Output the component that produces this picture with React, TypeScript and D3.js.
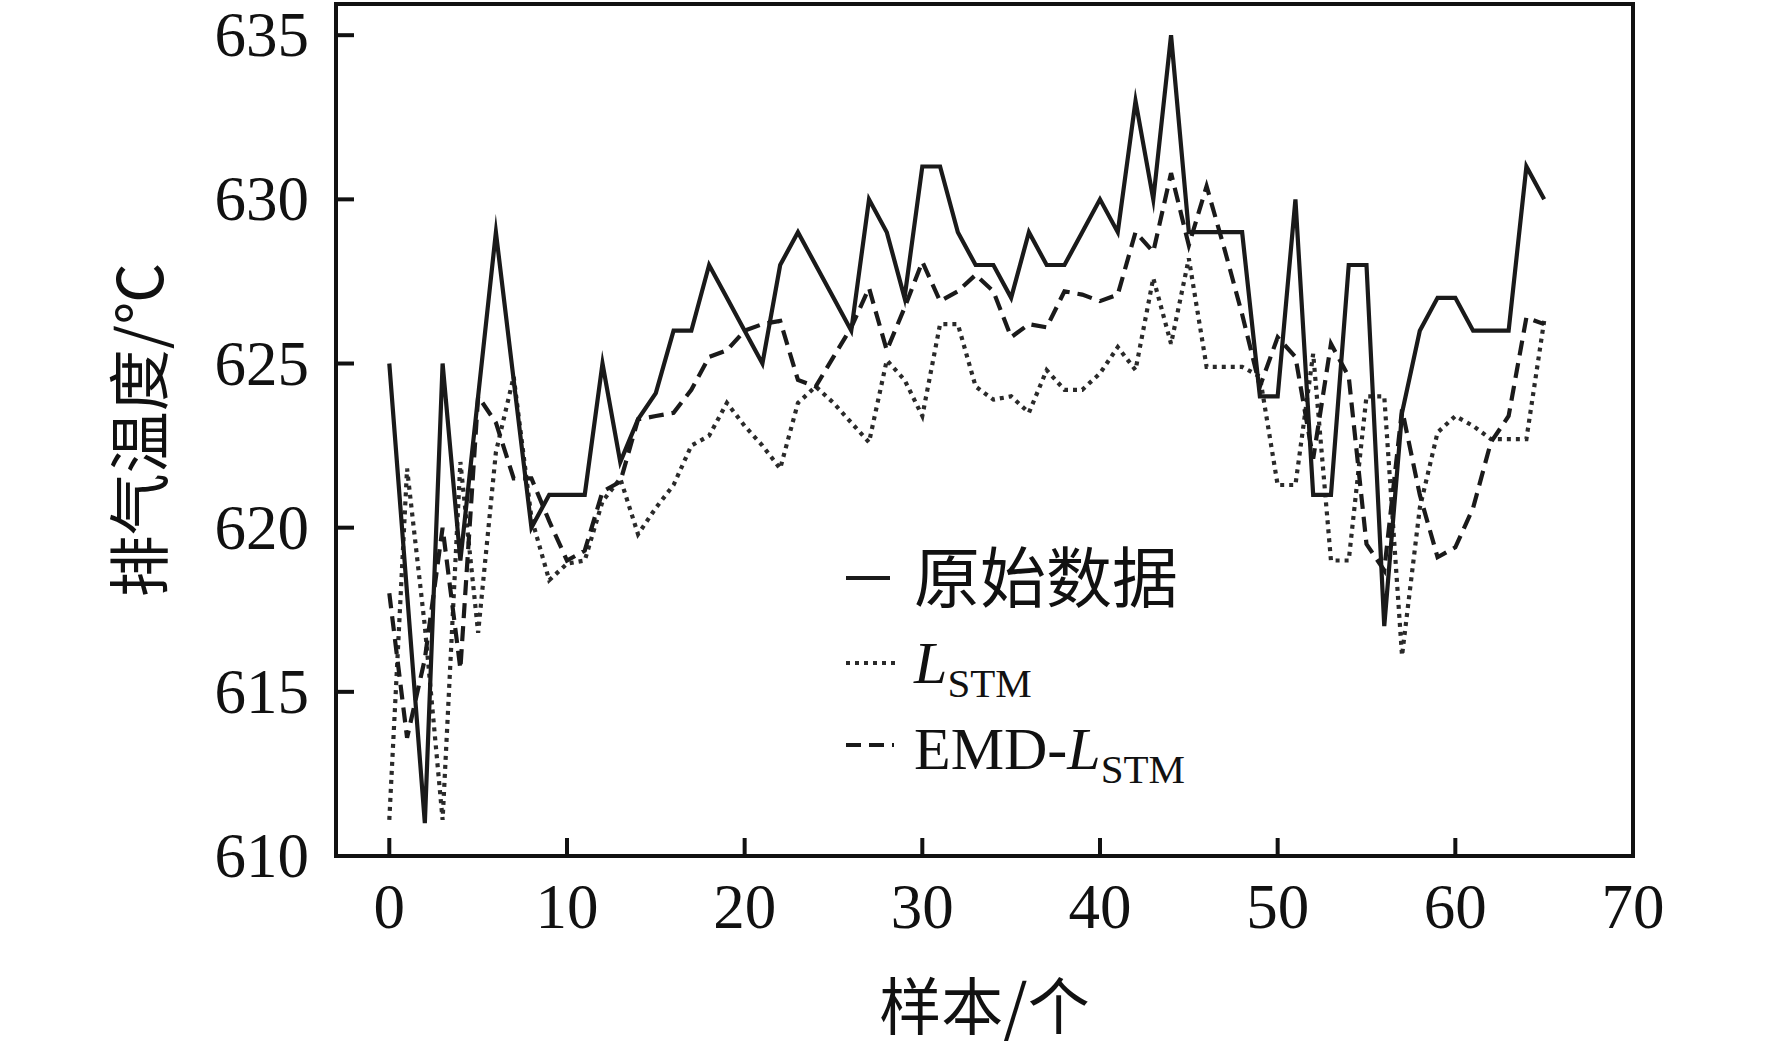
import * as d3 from "d3";

// sample index = array position (0..65)
const rawData = [
  625, 618, 611, 625, 619, 624, 629, 624.5, 620, 621,
  621, 621, 625, 622, 623.3, 624.1, 626, 626, 628, 627,
  626, 625, 628, 629, 628, 627, 626, 630, 629, 627,
  631, 631, 629, 628, 628, 627, 629, 628, 628, 629,
  630, 629, 633, 630, 635, 629, 629, 629, 629, 624,
  624, 630, 621, 621, 628, 628, 617, 623.5, 626, 627,
  627, 626, 626, 626, 631, 630,
];

const lstmData = [
  611.1, 621.8, 617, 611.1, 622, 616.8, 622.3, 624.6, 620.3, 618.4,
  618.9, 619, 620.8, 621.5, 619.8, 620.6, 621.3, 622.5, 622.8, 623.8,
  623.1, 622.5, 621.8, 623.8, 624.3, 623.8, 623.2, 622.6, 625.1, 624.5,
  623.4, 626.2, 626.2, 624.3, 623.9, 624, 623.5, 624.8, 624.2, 624.2,
  624.7, 625.5, 624.8, 627.6, 625.6, 628.2, 624.9, 624.9, 624.9, 624.6,
  621.3, 621.3, 625.3, 619, 619, 624, 624, 616.1, 620.6, 622.9,
  623.4, 623.1, 622.7, 622.7, 622.7, 626.3,
];

const emdLstmData = [
  618, 613.6, 616, 620, 615.7, 624, 623.2, 621.5, 621.5, 620.2,
  619, 619.3, 621.1, 621.4, 623.3, 623.4, 623.5, 624.2, 625.2, 625.4,
  626, 626.2, 626.3, 624.5, 624.3, 625.2, 626.1, 627.3, 625.4, 626.7,
  628.1, 626.9, 627.2, 627.7, 627.2, 625.8, 626.2, 626.1, 627.2, 627.1,
  626.9, 627.1, 629, 628.4, 630.8, 628.6, 630.4, 628.5, 626.5, 624.3,
  625.8, 625.2, 622.1, 625.6, 624.6, 619.5, 618.7, 623.6, 621, 619.1,
  619.4, 620.6, 622.6, 623.4, 626.4, 626.2,
];

const xTicks = [0, 10, 20, 30, 40, 50, 60, 70];
const yTicks = [610, 615, 620, 625, 630, 635];

const xTitle = "样本/个";
const yTitle = "排气温度/℃";

const SERIF = "'Liberation Serif', 'Times New Roman', serif";
const CJK = "'Noto Sans CJK SC', 'Noto Sans CJK JP', sans-serif";
const INK = "#111";

export default function App() {
  const W = 1772, H = 1048;
  const plot = { left: 336, right: 1633, top: 4, bottom: 856 };

  const x = d3.scaleLinear().domain([-3, 70]).range([plot.left, plot.right]);
  const y = d3.scaleLinear().domain([610, 635.95]).range([plot.bottom, plot.top]);

  const lineOf = (vals: number[]) =>
    d3.line<number>().x((_, i) => x(i)).y(d => y(d))(vals) ?? "";

  const tickLen = 18;
  const legX = 846, legTextX = 914;

  const solidStyle = { stroke: "#1a1a1a", strokeWidth: 4.2 };
  const dashStyle = { stroke: "#1a1a1a", strokeWidth: 4.2, strokeDasharray: "15 8" };
  const dotStyle = { stroke: "#2a2a2a", strokeWidth: 4.2, strokeDasharray: "4 5" };

  return (
    <svg
      width={W}
      height={H}
      viewBox={`0 0 ${W} ${H}`}
      style={{ position: "absolute", left: 0, top: 0, background: "#fff", display: "block" }}
    >
      {/* series: dotted first, solid on top */}
      <path d={lineOf(lstmData)} fill="none" {...dotStyle} />
      <path d={lineOf(emdLstmData)} fill="none" {...dashStyle} />
      <path d={lineOf(rawData)} fill="none" {...solidStyle}
        strokeLinejoin="miter" strokeMiterlimit={10} />

      {/* frame */}
      <rect x={plot.left} y={plot.top} width={plot.right - plot.left} height={plot.bottom - plot.top}
        fill="none" stroke={INK} strokeWidth={4} />

      {/* y ticks, inward */}
      {yTicks.map(t => (
        <g key={`y${t}`}>
          <line x1={plot.left} x2={plot.left + tickLen} y1={y(t)} y2={y(t)} stroke={INK} strokeWidth={4} />
          <text x={309} y={y(t)} textAnchor="end" dominantBaseline="central"
            fontFamily={SERIF} fontSize={63} fill={INK}>{t}</text>
        </g>
      ))}

      {/* x ticks, inward */}
      {xTicks.map(t => (
        <g key={`x${t}`}>
          <line x1={x(t)} x2={x(t)} y1={plot.bottom} y2={plot.bottom - tickLen} stroke={INK} strokeWidth={4} />
          <text x={x(t)} y={928} textAnchor="middle"
            fontFamily={SERIF} fontSize={63} fill={INK}>{t}</text>
        </g>
      ))}

      {/* axis titles */}
      <text x={(plot.left + plot.right) / 2} y={1030} textAnchor="middle"
        fontFamily={CJK} fontSize={62} fill={INK}>{xTitle}</text>
      <text transform={`translate(136,${(plot.top + plot.bottom) / 2}) rotate(-90)`}
        textAnchor="middle" dominantBaseline="central"
        fontFamily={CJK} fontSize={62} fill={INK}>{yTitle}</text>

      {/* legend */}
      <line x1={legX} x2={legX + 44} y1={578} y2={578} {...solidStyle} />
      <text x={legTextX} y={602} fontFamily={CJK} fontSize={66} fill={INK}>原始数据</text>

      <line x1={legX} x2={legX + 54} y1={663} y2={663} {...dotStyle} />
      <text x={legTextX} y={683} fontFamily={SERIF} fontSize={60} fill={INK}>
        <tspan fontStyle="italic">L</tspan>
        <tspan fontSize={41} dy={14}>STM</tspan>
      </text>

      <line x1={legX} x2={legX + 48} y1={745} y2={745} {...dashStyle} />
      <text x={legTextX} y={769} fontFamily={SERIF} fontSize={60} fill={INK}>
        <tspan>EMD-</tspan>
        <tspan fontStyle="italic">L</tspan>
        <tspan fontSize={41} dy={14}>STM</tspan>
      </text>
    </svg>
  );
}
